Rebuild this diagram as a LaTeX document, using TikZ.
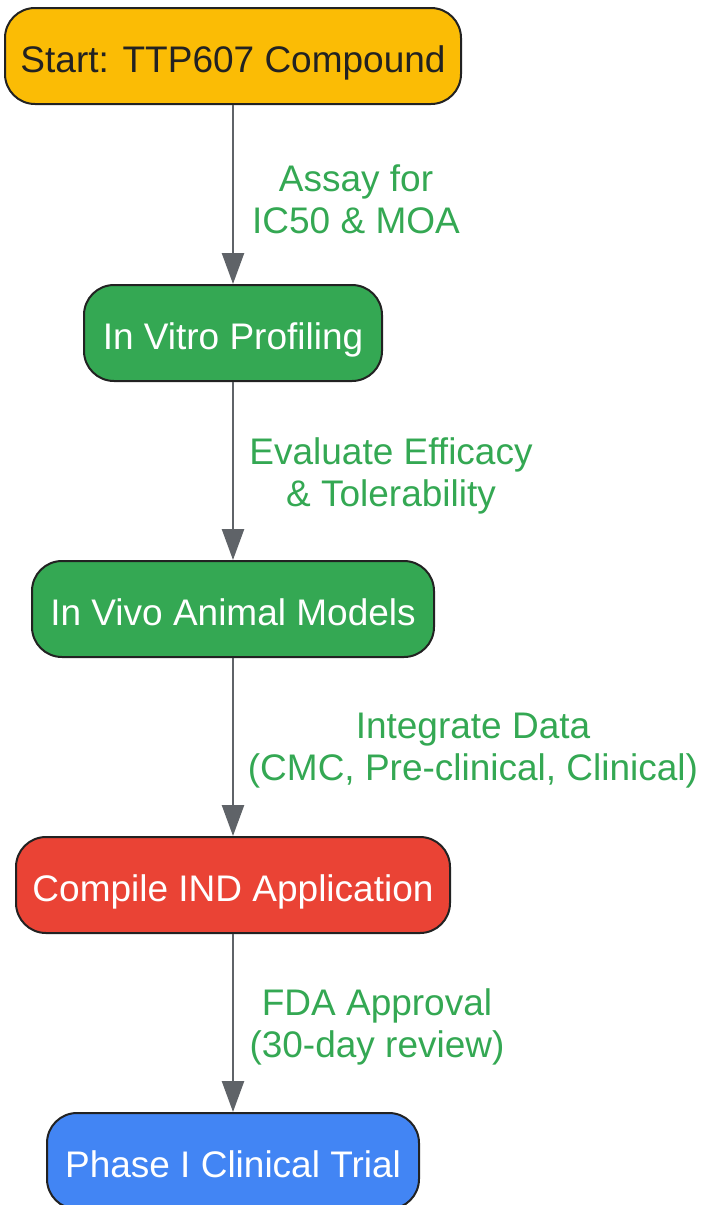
\documentclass[tikz,border=0pt]{standalone}
\usepackage{fontspec}
\setmainfont{Liberation Sans}
\usetikzlibrary{arrows.meta}
\definecolor{amber}{HTML}{FBBC05}
\definecolor{ggreen}{HTML}{34A853}
\definecolor{gred}{HTML}{EA4335}
\definecolor{gblue}{HTML}{4285F4}
\definecolor{edgegray}{HTML}{5F6368}
\definecolor{border}{HTML}{222222}
\begin{document}
\begin{tikzpicture}[x=1pt,y=1pt,
  stepbox/.style={draw=border, line width=2pt, rounded corners=30pt,
    minimum height=96pt, inner sep=0pt, text=white,
    text height=32pt, text depth=0pt,
    font=\fontsize{37}{44}\selectfont},
  flow/.style={draw=edgegray, line width=2.5pt,
    -{Triangle[length=31pt,width=22pt]}},
  elabel/.style={text=ggreen, align=center, inner sep=0pt,
    font=\fontsize{37}{42}\selectfont}]
\useasboundingbox (0,0) rectangle (703,-1205);
\node[stepbox, fill=amber, text=border, minimum width=456pt] (start) at (233,-56) {Start: TTP607 Compound};
\node[stepbox, fill=ggreen, minimum width=298pt] (vitro) at (233,-333) {In Vitro Profiling};
\node[stepbox, fill=ggreen, minimum width=402pt] (vivo) at (233,-609) {In Vivo Animal Models};
\node[stepbox, fill=gred, minimum width=434pt] (ind) at (233,-885) {Compile IND Application};
\node[stepbox, fill=gblue, minimum width=372pt] (phase) at (233,-1161) {Phase I Clinical Trial};
\draw[flow] (start) -- (vitro);
\draw[flow] (vitro) -- (vivo);
\draw[flow] (vivo) -- (ind);
\draw[flow] (ind) -- (phase);
\node[elabel] (l1) at (356,-199) {Assay for\\IC50 \& MOA};
\node[elabel] (l2) at (391,-476) {Evaluate Efficacy\\\& Tolerability};
\node[elabel] (l3) at (473,-751) {Integrate Data\\(CMC, Pre-clinical, Clinical)};
\node[elabel] (l4) at (377,-1027) {FDA Approval\\(30-day review)};
\end{tikzpicture}
\end{document}
